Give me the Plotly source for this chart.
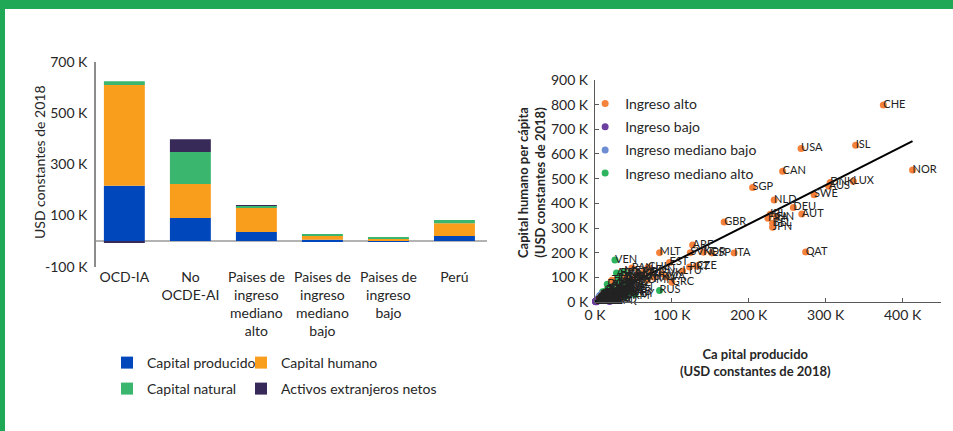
import plotly.graph_objects as go

# panel izquierdo: componentes de la riqueza per cápita (miles de USD constantes de 2018)
grupos = ["OCD-IA", "No<br>OCDE-AI", "Paises de<br>ingreso<br>mediano<br>alto",
          "Paises de<br>ingreso<br>mediano<br>bajo", "Paises de<br>ingreso<br>bajo", "Perú"]
capital_producido = [216, 90, 35, 5, 2, 20]
capital_humano = [394, 133, 94, 18, 6, 50]
capital_natural = [15, 125, 8, 4, 4, 12]
activos_extranjeros = [-7, 50, 3, 0, 0, 0]

bar_ticks = [-100, 100, 300, 500, 700]
bar_ticklabels = ["-100 K", "100 K", "300 K", "500 K", "700 K"]

# panel derecho: capital producido (x) vs capital humano (y), miles de USD
alto_pais = ["CHE", "ISL", "USA", "NOR", "CAN", "LUX", "DNK", "AUS", "SGP", "SWE", "NLD", "DEU",
             "AUT", "IRL", "FIN", "FRA", "BEL", "JPN", "GBR", "QAT", "ITA", "ARE", "ESP", "KOR",
             "SVN", "MLT", "EST", "CZE", "PRT", "SVK", "LTU", "LVA", "HRV", "GRC", "CHL", "HUN",
             "POL", "URY", "PAN", "SAU", "KWT", "OMN", "BHR", "TTO"]
alto_x = [375, 339, 268, 413, 244, 336, 306, 304, 205, 285, 233, 258,
          269, 228, 236, 225, 231, 231, 168, 274, 181, 127, 152, 141,
          124, 84, 97, 132, 123, 87, 114, 93, 76, 100, 69, 72,
          62, 55, 48, 58, 50, 68, 40, 22]
alto_y = [799, 635, 622, 535, 530, 489, 484, 469, 464, 435, 413, 383,
          357, 356, 345, 340, 319, 303, 324, 203, 199, 231, 199, 202,
          200, 200, 160, 146, 142, 115, 126, 101, 101, 80, 141, 128,
          120, 112, 138, 100, 92, 88, 100, 88]

medalto_pais = ["VEN", "ARG", "BRA", "MEX", "CRI", "TUR", "MYS", "RUS", "KAZ", "CHN", "ZAF", "COL",
                "PER", "THA", "BWA", "DOM", "ECU", "BGR", "SRB", "BLR", "MUS", "NAM", "IRQ", "LBN",
                "DZA", "IRN", "AZE", "GAB", "ALB", "MKD", "PRY", "JAM", "GTM", "ARM", "GEO", "BIH",
                "MNE", "JOR", "LBY", "TKM", "FJI"]
medalto_x = [26, 28, 33, 38, 43, 36, 30, 84, 45, 32, 25, 20,
             22, 18, 28, 16, 14, 40, 35, 42, 30, 24, 30, 48,
             26, 38, 22, 44, 15, 19, 12, 10, 8, 11, 13, 20,
             34, 17, 52, 40, 9]
medalto_y = [170, 118, 115, 123, 108, 100, 96, 47, 75, 62, 80, 58,
             66, 52, 48, 72, 46, 88, 70, 58, 82, 40, 6, 55,
             32, 40, 28, 38, 38, 44, 35, 42, 30, 26, 30, 36,
             52, 24, 30, 22, 24]

medbajo_pais = ["IND", "PAK", "BGD", "NGA", "EGY", "PHL", "VNM", "IDN", "UKR", "KEN", "GHA", "MAR",
                "TUN", "BOL", "HND", "NIC", "SLV", "LKA", "MNG", "KGZ", "UZB", "CMR", "CIV", "SEN", "ZMB"]
medbajo_x = [5, 3, 4, 7, 9, 7, 8, 11, 9, 3, 4, 10, 12, 7, 5, 4, 6, 9, 11, 2, 5, 2, 3, 3, 4]
medbajo_y = [16, 12, 13, 10, 24, 27, 21, 30, 19, 9, 11, 23, 31, 19, 17, 14, 25, 33, 17, 7, 11, 6, 7, 9, 8]

bajo_pais = ["ETH", "UGA", "MOZ", "AFG", "MDG", "MWI", "NER", "TCD", "BFA", "RWA", "HTI", "YEM"]
bajo_x = [1, 1, 2, 2, 1, 1, 1, 2, 1, 2, 1, 19]
bajo_y = [3, 4, 2, 3, 2, 2, 1, 1, 3, 5, 4, 2]

# recta de tendencia
trend_slope = 1.576
trend_intercept = 1

sc_ticks = [0, 100, 200, 300, 400, 500, 600, 700, 800, 900]
sc_ticklabels = [str(t) + " K" for t in sc_ticks]

FONT = "Lato"
TXT = "#262626"

fig = go.Figure()

# una leyenda por entrada para colocar las dos columnas como en el original
bar_series = [
    ("Capital producido", capital_producido, "#0047BB", "legend"),
    ("Capital humano", capital_humano, "#F99D1C", "legend2"),
    ("Capital natural", capital_natural, "#3BB66F", "legend3"),
    ("Activos extranjeros netos", activos_extranjeros, "#382A58", "legend4"),
]
for name, vals, col, leg in bar_series:
    fig.add_trace(go.Bar(x=grupos, y=vals, name=name, marker_color=col,
                         marker_line_width=0, legend=leg, xaxis="x", yaxis="y"))

scatter_groups = [
    ("Ingreso alto", alto_x, alto_y, "#F5823A"),
    ("Ingreso bajo", bajo_x, bajo_y, "#6B3FA0"),
    ("Ingreso mediano bajo", medbajo_x, medbajo_y, "#6E8ED4"),
    ("Ingreso mediano alto", medalto_x, medalto_y, "#2DB45C"),
]
draw_order = [3, 2, 1, 0]
for i in draw_order:
    name, xs, ys, col = scatter_groups[i]
    fig.add_trace(go.Scatter(x=xs, y=ys, mode="markers", name=name,
                             marker=dict(color=col, size=7), legend="legend5",
                             legendgroup=name, legendrank=i + 1,
                             xaxis="x2", yaxis="y2", cliponaxis=False))

all_x = alto_x + medalto_x + medbajo_x + bajo_x
all_y = alto_y + medalto_y + medbajo_y + bajo_y
all_lab = alto_pais + medalto_pais + medbajo_pais + bajo_pais

line_x = [0, max(all_x)]
line_y = [trend_slope * v + trend_intercept for v in line_x]
fig.add_trace(go.Scatter(x=line_x, y=line_y, mode="lines", line=dict(color="black", width=2),
                         showlegend=False, xaxis="x2", yaxis="y2"))

fig.add_trace(go.Scatter(x=all_x, y=all_y, text=all_lab, mode="text", textposition="middle right",
                         textfont=dict(size=11, color="#222", family=FONT), showlegend=False,
                         xaxis="x2", yaxis="y2", cliponaxis=False))

leg_common = dict(orientation="h", xanchor="left", yanchor="middle",
                  font=dict(size=14), bgcolor="rgba(0,0,0,0)")

fig.update_layout(
    width=953, height=431,
    margin=dict(l=0, r=0, t=0, b=0, autoexpand=False),
    paper_bgcolor="white", plot_bgcolor="white",
    font=dict(family=FONT, size=14, color=TXT),
    barmode="relative", bargap=0.38,
    xaxis=dict(domain=[0.1007, 0.5115], range=[-0.43, 5.5], showgrid=False, showline=False,
               ticks="", tickfont=dict(size=14), anchor="y"),
    yaxis=dict(domain=[0.3814, 0.8561], range=[-100, 700], tickvals=bar_ticks, ticktext=bar_ticklabels,
               showgrid=False, showline=True, linecolor="#8c8c8c", linewidth=1.5, zeroline=True,
               zerolinecolor="#b3b3b3", zerolinewidth=1.5, ticks="", ticklabelstandoff=4, anchor="x"),
    xaxis2=dict(domain=[0.6243, 0.9874], range=[0, 450], tickvals=sc_ticks[:5], ticktext=sc_ticklabels[:5],
                showgrid=False, showline=True, linecolor="#595959", zeroline=False,
                ticks="inside", ticklen=4, tickcolor="#595959", anchor="y2"),
    yaxis2=dict(domain=[0.2993, 0.8144], range=[0, 900], tickvals=sc_ticks, ticktext=sc_ticklabels,
                showgrid=False, showline=True, linecolor="#595959", zeroline=False,
                ticks="inside", ticklen=4, tickcolor="#595959", ticklabelstandoff=3, anchor="x2"),
    legend=dict(x=0.1123, y=1 - 363 / 431, **leg_common),
    legend2=dict(x=0.2529, y=1 - 363 / 431, **leg_common),
    legend3=dict(x=0.1123, y=1 - 389 / 431, **leg_common),
    legend4=dict(x=0.2529, y=1 - 389 / 431, **leg_common),
    legend5=dict(x=0.614, xanchor="left", y=0.796, yanchor="top", font=dict(size=14),
                 tracegroupgap=2, bgcolor="rgba(0,0,0,0)"),
    annotations=[
        dict(text="USD constantes de 2018", x=39 / 953, y=1 - 162 / 431, xref="paper", yref="paper",
             xanchor="center", yanchor="middle", textangle=-90, showarrow=False, font=dict(size=14)),
        dict(text="<b>Capital humano per cápita<br>(USD constantes de 2018)</b>", x=531 / 953,
             y=1 - 183 / 431, xref="paper", yref="paper", xanchor="center", yanchor="middle",
             textangle=-90, showarrow=False, font=dict(size=13)),
        dict(text="<b>Ca pital producido<br>(USD constantes de 2018)</b>", x=755 / 953,
             y=1 - 362 / 431, xref="paper", yref="paper", xanchor="center", yanchor="middle",
             showarrow=False, font=dict(size=13)),
    ],
    shapes=[
        dict(type="rect", xref="paper", yref="paper", x0=0, x1=1, y0=1 - 9 / 431, y1=1,
             fillcolor="#1FA855", line_width=0, layer="above"),
        dict(type="rect", xref="paper", yref="paper", x0=0, x1=5 / 953, y0=0, y1=1,
             fillcolor="#1FA855", line_width=0, layer="above"),
    ],
)

# sin el margen por defecto del <body>, la figura ocupa la ventana completa
fig.write_html("out.html", config={"displayModeBar": False},
               post_script="document.body.style.margin='0';")
